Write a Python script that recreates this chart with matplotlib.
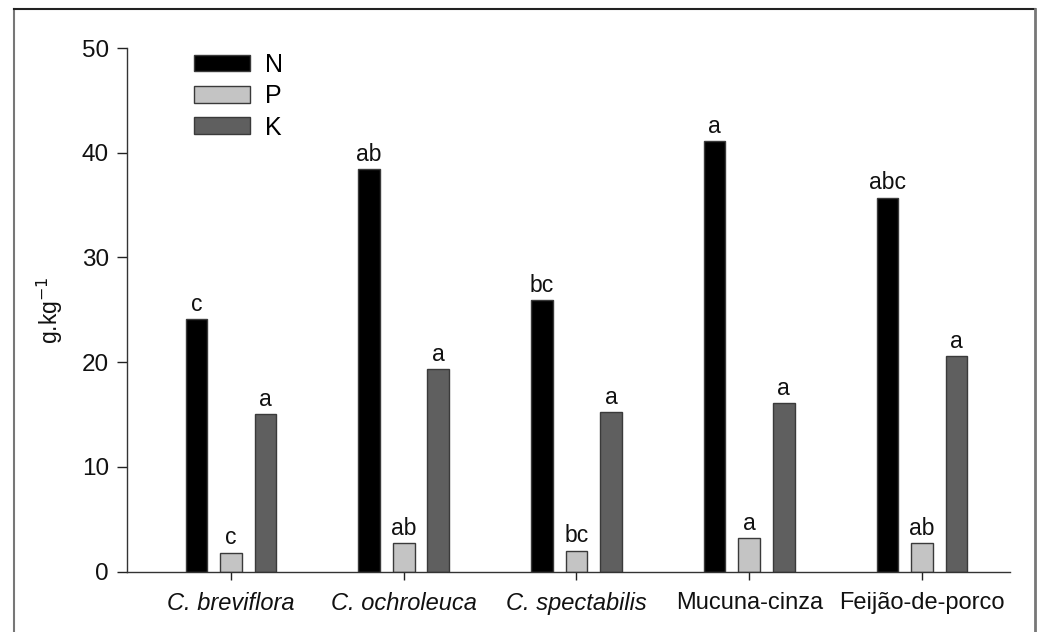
import matplotlib
matplotlib.use('Agg')
import matplotlib.pyplot as plt
from matplotlib.lines import Line2D
import numpy as np

plt.rcParams['font.family'] = ['Liberation Sans', 'DejaVu Sans']

# ─── Data ───
categories = ['C. breviflora', 'C. ochroleuca', 'C. spectabilis', 'Mucuna-cinza', 'Feijão-de-porco']
italic_cat = [True, True, True, False, False]
n_vals = [24.1, 38.4, 25.9, 41.1, 35.7]
p_vals = [1.8, 2.7, 2.0, 3.2, 2.7]
k_vals = [15.0, 19.3, 15.2, 16.1, 20.6]
n_letters = ['c', 'ab', 'bc', 'a', 'abc']
p_letters = ['c', 'ab', 'bc', 'a', 'ab']
k_letters = ['a', 'a', 'a', 'a', 'a']
series = [('N', n_vals, n_letters, '#000000'),
          ('P', p_vals, p_letters, '#c4c4c4'),
          ('K', k_vals, k_letters, '#5f5f5f')]

fig = plt.figure(figsize=(10.4, 6.32), dpi=100)
ax = fig.add_axes([0.1221, 0.0957, 0.8491, 0.8283])

x = np.arange(len(categories))
width = 0.125
offsets = [-0.2, 0.0, 0.2]
handles = []
for (name, vals, letters, color), off in zip(series, offsets):
    bars = ax.bar(x + off, vals, width, color=color, edgecolor='#3a3a3a', linewidth=1.0, label=name)
    handles.append(bars)
    for b, lt in zip(bars, letters):
        ax.annotate(lt, (b.get_x() + b.get_width() / 2, b.get_height()),
                    xytext=(0, 6), textcoords='offset points',
                    ha='center', va='baseline', fontsize=16.5, color='#111111')

ax.set_xlim(-0.602, 4.51)
ax.set_ylim(0, 50)
ax.set_yticks([0, 10, 20, 30, 40, 50])
ax.set_xticks(x)
ax.set_xticklabels(categories)
for lbl, it in zip(ax.get_xticklabels(), italic_cat):
    if it:
        lbl.set_style('italic')
ax.tick_params(axis='y', direction='out', length=7, width=1, labelsize=17.5, pad=6, colors='#222222')
ax.tick_params(axis='x', direction='out', length=6, width=1, labelsize=17, pad=9, colors='#222222')
for lbl in ax.get_xticklabels() + ax.get_yticklabels():
    lbl.set_color('#111111')
ax.spines['top'].set_visible(False)
ax.spines['right'].set_visible(False)
for s in ['left', 'bottom']:
    ax.spines[s].set_color('#333333')
    ax.spines[s].set_linewidth(1)

ax.set_ylabel('g.kg$^{-1}$', fontsize=16.5, labelpad=12, color='#111111')

leg = ax.legend(handles=handles, labels=['N', 'P', 'K'], loc='upper left',
                bbox_to_anchor=(0.0646, 1.0096), borderaxespad=0, frameon=False, fontsize=18,
                handlelength=2.24, handleheight=0.64, handletextpad=0.6, labelspacing=0.29)

# outer frame around the figure
fig.add_artist(Line2D([14 / 1040, 14 / 1040], [0, 1 - 9 / 632], transform=fig.transFigure, color='#777777', lw=1.5))
fig.add_artist(Line2D([14 / 1040, 1035 / 1040], [1 - 9 / 632, 1 - 9 / 632], transform=fig.transFigure, color='#222222', lw=1.5))
fig.add_artist(Line2D([1035 / 1040, 1035 / 1040], [0, 1 - 9 / 632], transform=fig.transFigure, color='#777777', lw=2))

fig.savefig('out.png', dpi=100)
